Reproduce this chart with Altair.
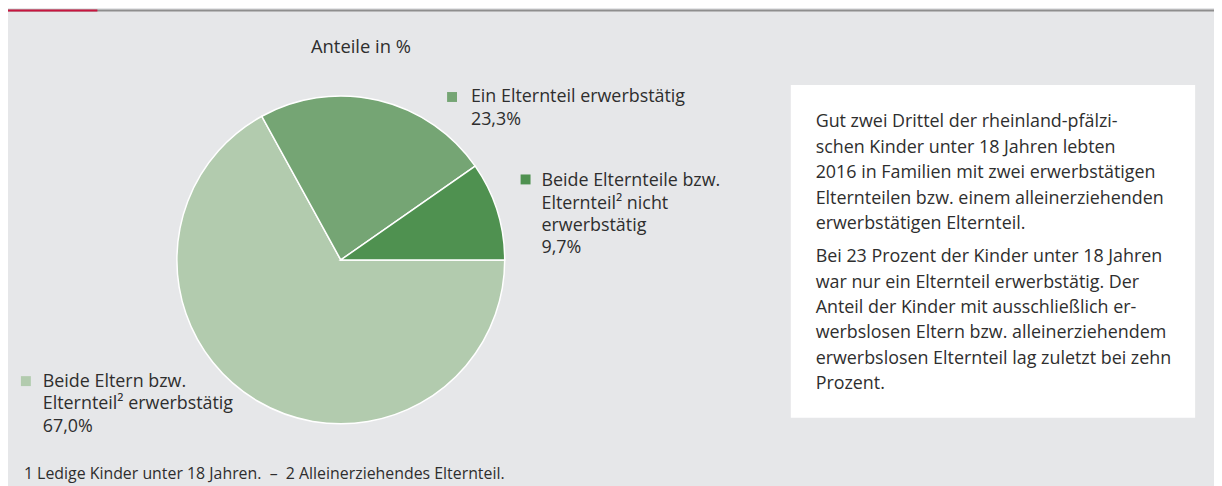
import math
import altair as alt
import pandas as pd

# ---- data ----
categories = [
    "Beide Eltern bzw. Elternteil erwerbstätig",
    "Ein Elternteil erwerbstätig",
    "Beide Elternteile bzw. Elternteil nicht erwerbstätig",
]
shares = [67.0, 23.3, 9.7]
share_labels = ["67,0%", "23,3%", "9,7%"]
label_lines = [
    ["Beide Eltern bzw.", "Elternteil² erwerbstätig", "67,0%"],
    ["Ein Elternteil erwerbstätig", "23,3%"],
    ["Beide Elternteile bzw.", "Elternteil² nicht", "erwerbstätig", "9,7%"],
]
colors = ["#b2cbae", "#75a574", "#4f9150"]
subtitle = "Anteile in %"
footnote = "1 Ledige Kinder unter 18 Jahren. \u00a0–\u00a0 2 Alleinerziehendes Elternteil."
para1 = [
    "Gut zwei Drittel der rheinland-pfälzi-",
    "schen Kinder unter 18 Jahren lebten",
    "2016 in Familien mit zwei erwerbstätigen",
    "Elternteilen bzw. einem alleinerziehenden",
    "erwerbstätigen Elternteil.",
]
para2 = [
    "Bei 23 Prozent der Kinder unter 18 Jahren",
    "war nur ein Elternteil erwerbstätig. Der",
    "Anteil der Kinder mit ausschließlich er-",
    "werbslosen Eltern bzw. alleinerziehendem",
    "erwerbslosen Elternteil lag zuletzt bei zehn",
    "Prozent.",
]

FONT = "Open Sans"
TXT = "#2e2e2e"
BG = "#e6e7e9"
W, H = 1214, 478

pie_df = pd.DataFrame({"cat": categories, "share": shares, "order": list(range(len(categories)))})
one = pd.DataFrame({"k": [0]})

color_scale = alt.Scale(domain=categories, range=colors)

pie = alt.Chart(pie_df).mark_arc(outerRadius=165, stroke="white", strokeWidth=1.5).encode(
    x=alt.value(335),
    y=alt.value(252),
    theta=alt.Theta("share:Q", stack=True,
                    scale=alt.Scale(domain=[0, 100], range=[math.pi / 2, math.pi / 2 + 2 * math.pi])),
    order=alt.Order("order:Q"),
    color=alt.Color("cat:N", scale=color_scale, legend=None),
)

def square(i, cx, cy):
    d = pd.DataFrame({"cat": [categories[i]]})
    return alt.Chart(d).mark_square(size=100, opacity=1, filled=True).encode(
        x=alt.value(cx), y=alt.value(cy),
        color=alt.Color("cat:N", scale=color_scale, legend=None),
    )

def text_block(lines, x, y, size=18, lh=23, color=TXT):
    d = pd.DataFrame({"t": ["\n".join(lines)]})
    return alt.Chart(d).mark_text(
        align="left", baseline="top", font=FONT, fontSize=size, lineHeight=lh,
        lineBreak="\n", color=color,
    ).encode(x=alt.value(x), y=alt.value(y), text="t:N")

box = alt.Chart(one).mark_rect(color="white").encode(
    x=alt.value(788), x2=alt.value(1195), y=alt.value(76), y2=alt.value(411)
)
topline = alt.Chart(one).mark_rect(color="#8e8e8e").encode(
    x=alt.value(0), x2=alt.value(W), y=alt.value(0), y2=alt.value(2)
)
redline = alt.Chart(one).mark_rect(color="#c8153f").encode(
    x=alt.value(0), x2=alt.value(90), y=alt.value(0), y2=alt.value(2)
)

layers = [
    topline, redline, box, pie,
    square(1, 447, 88), square(2, 521, 171), square(0, 18, 374),
    text_block(label_lines[1], 466, 79, lh=23.5),
    text_block(label_lines[2], 537, 164, lh=22.4),
    text_block(label_lines[0], 35, 366, lh=22.5),
    text_block([subtitle], 305, 28.5, size=18.5),
    text_block(para1, 813, 104.5, lh=25.6),
    text_block(para2, 813, 240.5, lh=25.5),
    text_block([footnote], 16, 460, size=16),
]

chart = alt.layer(*layers).properties(
    width=W, height=H, background=BG,
    autosize=alt.AutoSizeParams(type="none"), padding=0,
).configure_view(stroke=None)

chart.save("out.html", embed_options={"renderer": "svg", "actions": False})
